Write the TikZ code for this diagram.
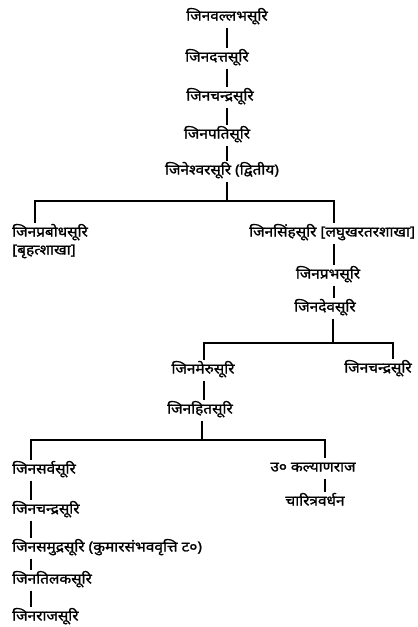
\documentclass[tikz,border=0pt]{standalone}
\usepackage{fontspec}
\setmainfont[Script=Devanagari]{Noto Sans}
\newfontfamily\devheavy[Script=Devanagari, FakeBold=1.2, FakeStretch=1.1]{Noto Sans}
\begin{document}
\begin{tikzpicture}[x=1pt,y=-1pt,
  person/.style={font=\devheavy\fontsize{14}{16}\selectfont, inner sep=0pt,
    text height=11pt, text depth=4pt, outer ysep=3pt},
  link/.style={line width=1.2pt}]
\useasboundingbox (0,0) rectangle (418,627);

% main line of descent
\node[person] (vallabha) at (227,17)  {जिनवल्लभसूरि};
\node[person] (datta)    at (217,58)  {जिनदत्तसूरि};
\node[person] (candraA)  at (220,97)  {जिनचन्द्रसूरि};
\node[person] (pati)     at (217,135) {जिनपतिसूरि};
\node[person] (eshvara)  at (222,171) {जिनेश्वरसूरि (द्वितीय)};

% first split
\node[person, anchor=west] (prabodha) at (12,233)  {जिनप्रबोधसूरि};
\node[person, anchor=west] (brhat)    at (12,251)  {[बृहत्शाखा]};
\node[person, anchor=west] (simha)    at (249,233) {जिनसिंहसूरि [लघुखरतरशाखा]};
\node[person] (prabha)   at (328,275) {जिनप्रभसूरि};
\node[person] (deva)     at (325,308) {जिनदेवसूरि};

% second split
\node[person] (meru)     at (203,370) {जिनमेरुसूरि};
\node[person] (candraB)  at (378,369) {जिनचन्द्रसूरि};
\node[person] (hita)     at (200,410) {जिनहितसूरि};

% third split
\node[person, anchor=west] (sarva)   at (12,470) {जिनसर्वसूरि};
\node[person, anchor=west] (candraC) at (12,510) {जिनचन्द्रसूरि};
\node[person, anchor=west] (samudra) at (12,548) {जिनसमुद्रसूरि (कुमारसंभववृत्ति ट०)};
\node[person, anchor=west] (tilaka)  at (12,580) {जिनतिलकसूरि};
\node[person, anchor=west] (raja)    at (12,617) {जिनराजसूरि};
\node[person] (kalyana)  at (313,468) {उ० कल्याणराज};
\node[person] (caritra)  at (315,502) {चारित्रवर्धन};

% columns and bars
\coordinate (trunk) at (227,0);
\coordinate (barAl) at (35,201);
\coordinate (barAr) at (334,201);
\coordinate (barBl) at (204,343);
\coordinate (barBm) at (333,343);
\coordinate (barBr) at (393,343);
\coordinate (barCl) at (31,440);
\coordinate (barCm) at (202,440);
\coordinate (barCr) at (325,440);

\draw[link] (trunk |- vallabha.south) -- (trunk |- datta.north);
\draw[link] (trunk |- datta.south)    -- (trunk |- candraA.north);
\draw[link] (trunk |- candraA.south)  -- (trunk |- pati.north);
\draw[link] (trunk |- pati.south)     -- (trunk |- eshvara.north);
\draw[link] (trunk |- eshvara.south)  -- (trunk |- barAl);
\draw[link] (barAl |- prabodha.north) -- (barAl) -- (barAr) -- (barAr |- simha.north);

\draw[link] (barAr |- simha.south)  -- (barAr |- prabha.north);
\draw[link] (barAr |- prabha.south) -- (barAr |- deva.north);
\draw[link] (barBm |- deva.south)   -- (barBm);
\draw[link] (barBl |- meru.north) -- (barBl) -- (barBr) -- (barBr |- candraB.north);
\draw[link] (barBl |- meru.south) -- (barBl |- hita.north);

\draw[link] (barCm |- hita.south) -- (barCm);
\draw[link] (barCl |- sarva.north) -- (barCl) -- (barCr) -- (barCr |- kalyana.north);
\draw[link] (barCl |- sarva.south)   -- (barCl |- candraC.north);
\draw[link] (barCl |- candraC.south) -- (barCl |- samudra.north);
\draw[link] (barCl |- samudra.south) -- (barCl |- tilaka.north);
\draw[link] (barCl |- tilaka.south)  -- (barCl |- raja.north);
\draw[link] (barCr |- kalyana.south) -- (barCr |- caritra.north);
\end{tikzpicture}
\end{document}
